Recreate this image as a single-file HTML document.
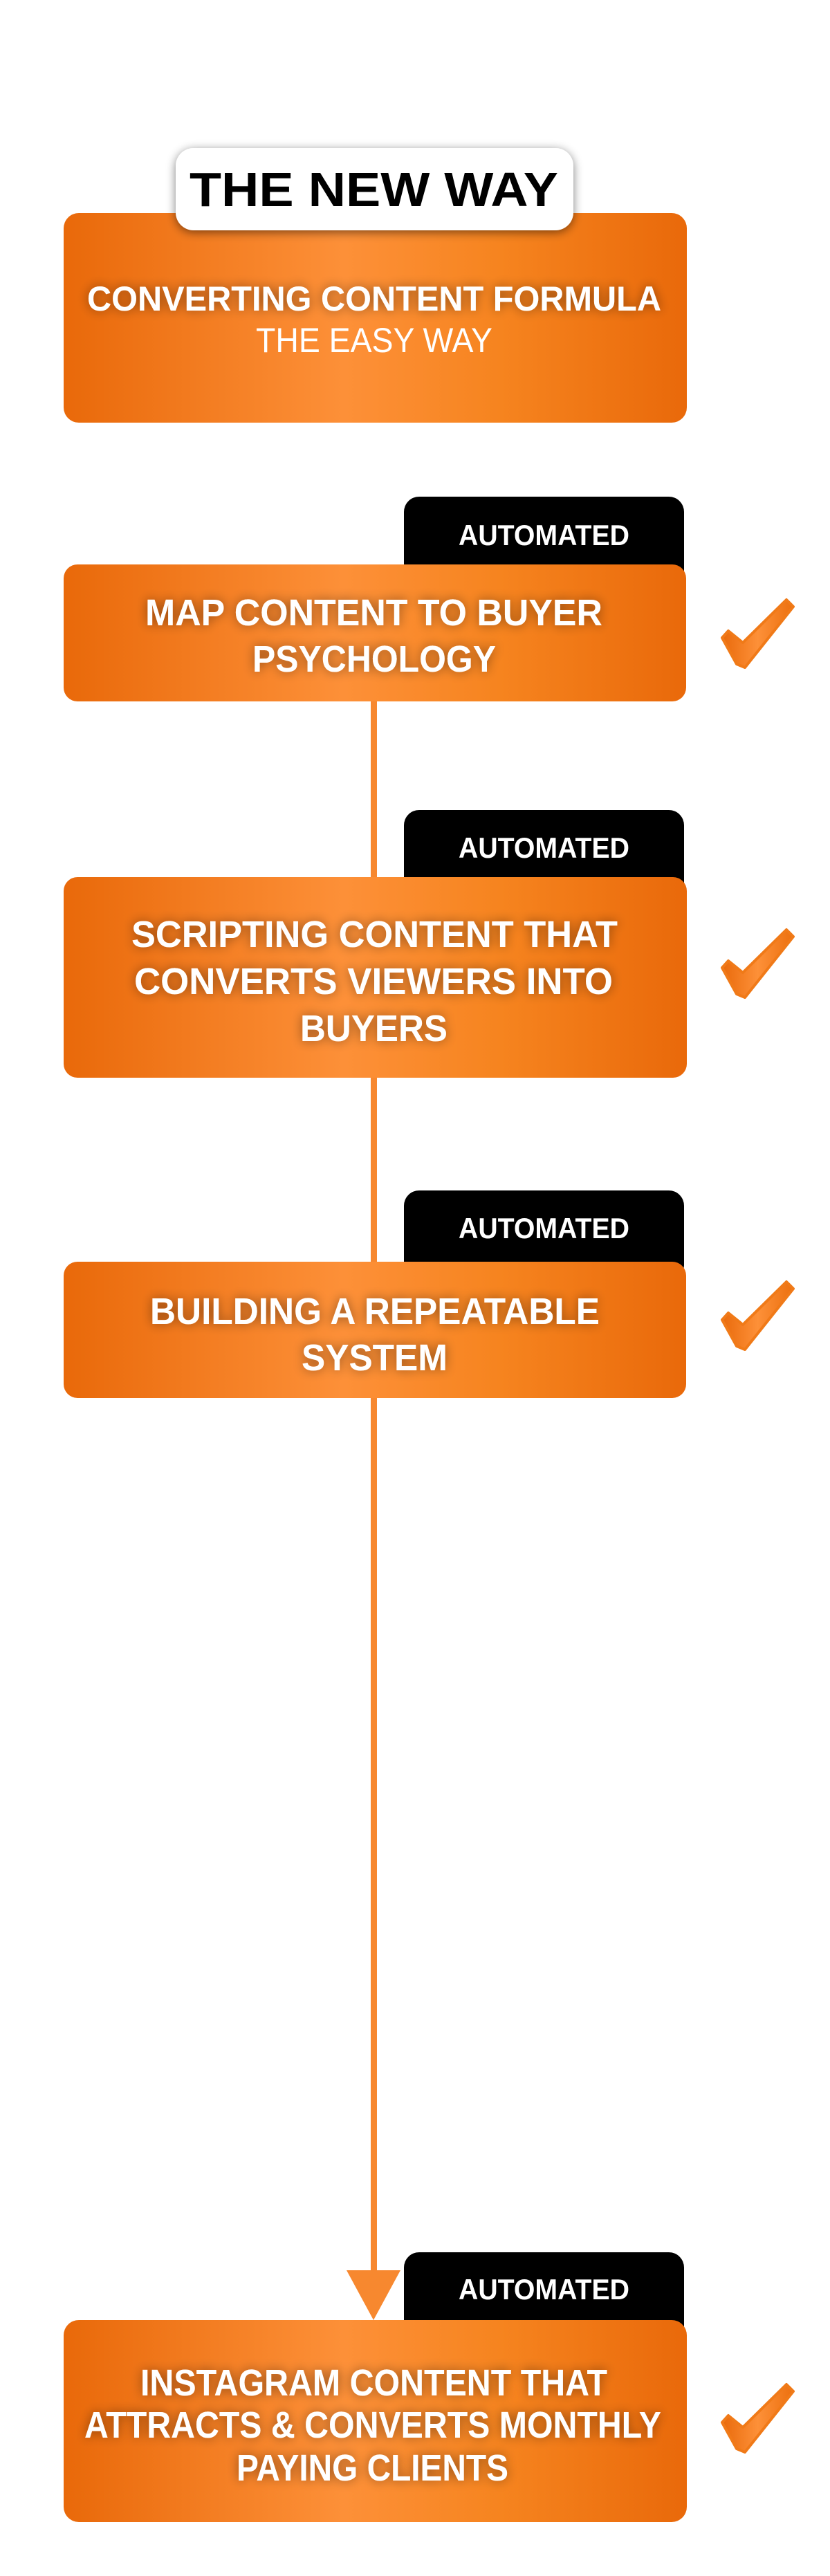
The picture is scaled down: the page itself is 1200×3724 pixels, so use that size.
<!DOCTYPE html>
<html><head><meta charset="utf-8"><style>
html,body{margin:0;padding:0;background:#fff;}
svg{display:block;}
text{font-family:"Liberation Sans",sans-serif;}
</style></head><body>
<svg width="1200" height="3724" viewBox="0 0 1200 3724" xmlns="http://www.w3.org/2000/svg">
<defs>
<linearGradient id="og" x1="0" x2="1" y1="0" y2="0">
<stop offset="0" stop-color="#e9690a"/>
<stop offset="0.45" stop-color="#fd9038"/>
<stop offset="0.7" stop-color="#f6841f"/>
<stop offset="1" stop-color="#e9690a"/>
</linearGradient>
<linearGradient id="cg" x1="0" x2="1" y1="0" y2="0">
<stop offset="0" stop-color="#e96a0b"/>
<stop offset="0.5" stop-color="#fd9038"/>
<stop offset="1" stop-color="#ec700f"/>
</linearGradient>
<filter id="ts" x="-10%" y="-50%" width="120%" height="200%">
<feGaussianBlur in="SourceAlpha" stdDeviation="8"/>
<feComponentTransfer><feFuncA type="linear" slope="0.45"/></feComponentTransfer>
<feMerge><feMergeNode/><feMergeNode in="SourceGraphic"/></feMerge>
</filter>
<filter id="ps" x="-10%" y="-30%" width="120%" height="160%">
<feGaussianBlur in="SourceAlpha" stdDeviation="7"/>
<feOffset dy="3"/>
<feComponentTransfer><feFuncA type="linear" slope="0.5"/></feComponentTransfer>
<feMerge><feMergeNode/><feMergeNode in="SourceGraphic"/></feMerge>
</filter>
<g id="chk"><polygon points="0,56 9,46 30,63 93,1 103,11 33,99 21,94" fill="url(#cg)" stroke="#f07a18" stroke-width="4" stroke-linejoin="round"/></g>
</defs>

<!-- connectors -->
<rect x="536" y="1010" width="9" height="262" fill="#f7882f"/>
<rect x="536" y="1555" width="9" height="272" fill="#f7882f"/>
<rect x="536" y="2018" width="9" height="1268" fill="#f7882f"/>
<polygon points="501,3282 579,3282 540,3354" fill="#f7882f"/>

<!-- box 1 -->
<rect x="92" y="308" width="901" height="303" rx="22" fill="url(#og)"/>
<rect x="254" y="214" width="575" height="119" rx="26" fill="#fff" filter="url(#ps)"/>
<text x="274" y="298" font-size="70" font-weight="bold" textLength="533" lengthAdjust="spacingAndGlyphs" fill="#000">THE NEW WAY</text>
<text x="126" y="449" font-size="50" font-weight="bold" textLength="830" lengthAdjust="spacingAndGlyphs" fill="#fff" filter="url(#ts)">CONVERTING CONTENT FORMULA</text>
<text x="370" y="509" font-size="50" textLength="342" lengthAdjust="spacingAndGlyphs" fill="#fff">THE EASY WAY</text>

<!-- box 2 -->
<rect x="584" y="718" width="405" height="130" rx="22" fill="#000"/>
<text x="663" y="788" font-size="42" font-weight="bold" textLength="247" lengthAdjust="spacingAndGlyphs" fill="#fff">AUTOMATED</text>
<rect x="92" y="816" width="900" height="198" rx="20" fill="url(#og)"/>
<g fill="#fff" font-size="54" font-weight="bold" filter="url(#ts)">
<text x="210" y="904" textLength="661" lengthAdjust="spacingAndGlyphs">MAP CONTENT TO BUYER</text>
<text x="365" y="971" textLength="352" lengthAdjust="spacingAndGlyphs">PSYCHOLOGY</text>
</g>
<use href="#chk" x="1044" y="866"/>

<!-- box 3 -->
<rect x="584" y="1171" width="405" height="130" rx="22" fill="#000"/>
<text x="663" y="1240" font-size="42" font-weight="bold" textLength="247" lengthAdjust="spacingAndGlyphs" fill="#fff">AUTOMATED</text>
<rect x="92" y="1268" width="901" height="290" rx="20" fill="url(#og)"/>
<g fill="#fff" font-size="54" font-weight="bold" filter="url(#ts)">
<text x="190" y="1369" textLength="703" lengthAdjust="spacingAndGlyphs">SCRIPTING CONTENT THAT</text>
<text x="194" y="1437" textLength="692" lengthAdjust="spacingAndGlyphs">CONVERTS VIEWERS INTO</text>
<text x="434" y="1505" textLength="213" lengthAdjust="spacingAndGlyphs">BUYERS</text>
</g>
<use href="#chk" x="1044" y="1343"/>

<!-- box 4 -->
<rect x="584" y="1721" width="405" height="130" rx="22" fill="#000"/>
<text x="663" y="1790" font-size="42" font-weight="bold" textLength="247" lengthAdjust="spacingAndGlyphs" fill="#fff">AUTOMATED</text>
<rect x="92" y="1824" width="900" height="197" rx="20" fill="url(#og)"/>
<g fill="#fff" font-size="54" font-weight="bold" filter="url(#ts)">
<text x="217" y="1914" textLength="650" lengthAdjust="spacingAndGlyphs">BUILDING A REPEATABLE</text>
<text x="436" y="1981" textLength="211" lengthAdjust="spacingAndGlyphs">SYSTEM</text>
</g>
<use href="#chk" x="1044" y="1852"/>

<!-- box 5 -->
<rect x="584" y="3256" width="405" height="130" rx="22" fill="#000"/>
<text x="663" y="3324" font-size="42" font-weight="bold" textLength="247" lengthAdjust="spacingAndGlyphs" fill="#fff">AUTOMATED</text>
<rect x="92" y="3354" width="901" height="292" rx="22" fill="url(#og)"/>
<g fill="#fff" font-size="54" font-weight="bold" filter="url(#ts)">
<text x="203" y="3463" textLength="675" lengthAdjust="spacingAndGlyphs">INSTAGRAM CONTENT THAT</text>
<text x="122" y="3524" textLength="834" lengthAdjust="spacingAndGlyphs">ATTRACTS &amp; CONVERTS MONTHLY</text>
<text x="342" y="3586" textLength="393" lengthAdjust="spacingAndGlyphs">PAYING CLIENTS</text>
</g>
<use href="#chk" x="1044" y="3446"/>
</svg>
</body></html>
